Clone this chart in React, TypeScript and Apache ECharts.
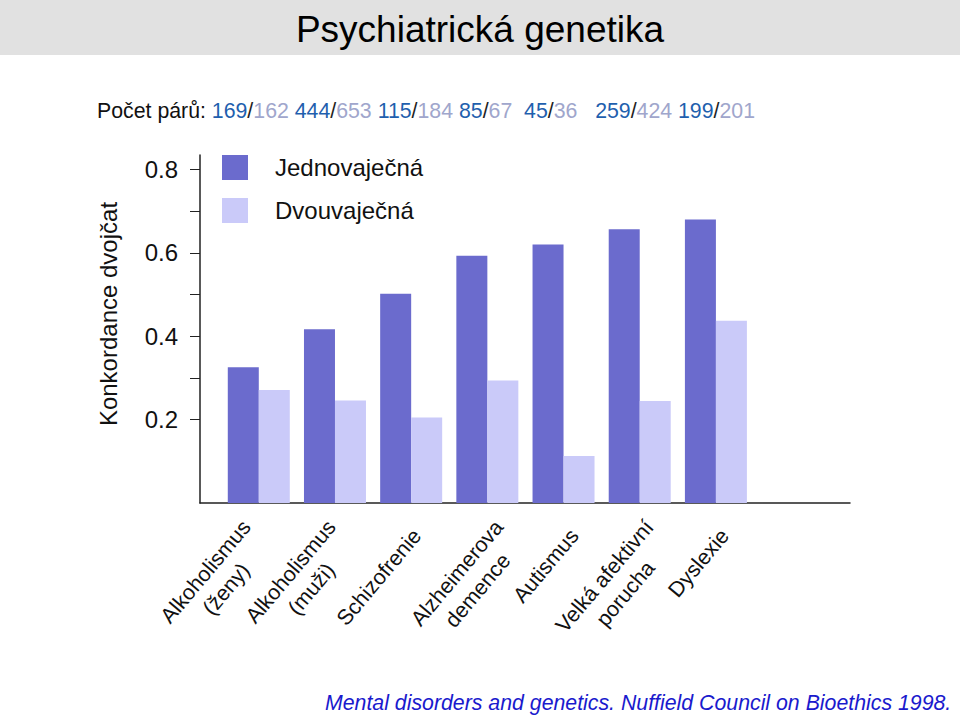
import React, { useEffect, useRef } from "react";
import * as echarts from "echarts";

const categories = [
  "Alkoholismus\n(ženy)",
  "Alkoholismus\n(muži)",
  "Schizofrenie",
  "Alzheimerova\ndemence",
  "Autismus",
  "Velká afektivní\nporucha",
  "Dyslexie",
];
const seriesNames = ["Jednovaječná", "Dvouvaječná"];
const identicalTwins = [0.326, 0.417, 0.502, 0.593, 0.62, 0.657, 0.68];
const fraternalTwins = [0.271, 0.246, 0.205, 0.294, 0.113, 0.245, 0.437];
const identicalPairs = [169, 444, 115, 85, 45, 259, 199];
const fraternalPairs = [162, 653, 184, 67, 36, 424, 201];
const pairSeparators = [" ", " ", " ", "  ", "   ", " "];
const yTickValues = [0.2, 0.3, 0.4, 0.5, 0.6, 0.7, 0.8];
const yLabelValues = [0.2, 0.4, 0.6, 0.8];

const FONT = "'Liberation Sans', Arial, Helvetica, sans-serif";
const Y_MAX = 0.835;
const BAR_GRID_LEFT = 220.7;
const BAR_GRID_WIDTH = 533.3;
const BAND = BAR_GRID_WIDTH / categories.length;
const labelShiftPx = [-2, 7, 6, 22, 11, 20, 9];

function pairText(): string {
  let s = "{k|Počet párů:} ";
  identicalPairs.forEach((a, i) => {
    s += `{a|${a}}{s|/}{b|${fraternalPairs[i]}}`;
    if (i < pairSeparators.length) s += pairSeparators[i];
  });
  return s;
}

export default function App() {
  const ref = useRef<HTMLDivElement>(null);
  useEffect(() => {
    if (!ref.current) return;
    const chart = echarts.init(ref.current, undefined, { renderer: "svg" });
    const option: any = {
      animation: false,
      backgroundColor: "#ffffff",
      textStyle: { fontFamily: FONT },
      legend: {
        data: seriesNames,
        orient: "vertical",
        left: 222,
        top: 155,
        padding: 0,
        itemWidth: 26,
        itemHeight: 25,
        itemGap: 18,
        icon: "rect",
        textStyle: { fontSize: 24, color: "#111", fontFamily: FONT, padding: [0, 0, 0, 22] },
      },
      grid: [
        { left: 200, top: 155, width: 650, height: 348 },
        { left: BAR_GRID_LEFT, top: 155, width: BAR_GRID_WIDTH, height: 348 },
      ],
      xAxis: [
        {
          gridIndex: 0,
          type: "value",
          min: 0,
          max: 1,
          axisLine: { show: true, lineStyle: { color: "#222", width: 1.5 } },
          axisTick: { show: false },
          axisLabel: { show: false },
          splitLine: { show: false },
        },
        {
          gridIndex: 1,
          type: "category",
          data: categories,
          show: false,
        },
        {
          gridIndex: 1,
          type: "value",
          min: 0,
          max: categories.length,
          position: "bottom",
          offset: 0,
          axisLine: { show: false },
          axisTick: { show: false },
          splitLine: { show: false },
          axisLabel: {
            customValues: categories.map((_, i) => i + 0.5 + labelShiftPx[i] / BAND),
            formatter: (v: number) =>
              categories[Math.max(0, Math.min(categories.length - 1, Math.floor(v)))]
                .split("\n")
                .map((l) => `{c|${l}}`)
                .join("\n"),
            rotate: 50,
            margin: 29,
            color: "#111",
            fontSize: 21.5,
            lineHeight: 27,
            fontFamily: FONT,
            rich: {
              c: { align: "center", fontSize: 21.5, lineHeight: 27, color: "#111", fontFamily: FONT },
            },
          },
        },
      ],
      yAxis: [
        {
          gridIndex: 0,
          type: "value",
          min: 0,
          max: Y_MAX,
          axisLine: { show: true, lineStyle: { color: "#222", width: 1.5 } },
          axisTick: { show: true, customValues: yTickValues, length: 10, lineStyle: { color: "#222", width: 1 } },
          axisLabel: {
            customValues: yLabelValues,
            formatter: (v: number) => v.toFixed(1),
            fontSize: 24,
            margin: 22,
            color: "#111",
            fontFamily: FONT,
          },
          splitLine: { show: false },
        },
        {
          gridIndex: 1,
          type: "value",
          min: 0,
          max: Y_MAX,
          show: false,
          splitLine: { show: false },
        },
      ],
      series: [
        {
          name: seriesNames[0],
          type: "bar",
          xAxisIndex: 1,
          yAxisIndex: 1,
          data: identicalTwins,
          barWidth: 31,
          barGap: "0%",
          itemStyle: { color: "#6b6bcd" },
        },
        {
          name: seriesNames[1],
          type: "bar",
          xAxisIndex: 1,
          yAxisIndex: 1,
          data: fraternalTwins,
          barWidth: 31,
          barGap: "0%",
          itemStyle: { color: "#cacaf9" },
        },
      ],
      graphic: [
        { type: "rect", z: -1, shape: { x: 0, y: 0, width: 960, height: 55 }, style: { fill: "#e1e1e1" } },
        {
          type: "text",
          x: 480,
          y: 29,
          style: {
            text: "Psychiatrická genetika",
            fontSize: 37,
            fontFamily: FONT,
            fill: "#000",
            align: "center",
            verticalAlign: "middle",
          },
        },
        {
          type: "text",
          x: 97,
          y: 111,
          style: {
            text: pairText(),
            fontSize: 21.3,
            fontFamily: FONT,
            fill: "#111",
            align: "left",
            verticalAlign: "middle",
            rich: {
              k: { fontSize: 21.3, fontFamily: FONT, fill: "#111" },
              a: { fontSize: 21.3, fontFamily: FONT, fill: "#1f5fae" },
              s: { fontSize: 21.3, fontFamily: FONT, fill: "#222" },
              b: { fontSize: 21.3, fontFamily: FONT, fill: "#a0a6cc" },
            },
          },
        },
        {
          type: "text",
          x: 108,
          y: 314,
          rotation: Math.PI / 2,
          style: {
            text: "Konkordance dvojčat",
            fontSize: 24,
            fontFamily: FONT,
            fill: "#111",
            align: "center",
            verticalAlign: "middle",
          },
        },
        {
          type: "text",
          x: 325,
          y: 703,
          style: {
            text: "Mental disorders and genetics. Nuffield Council on Bioethics 1998.",
            fontSize: 21.3,
            fontStyle: "italic",
            fontFamily: FONT,
            fill: "#1a1acd",
            align: "left",
            verticalAlign: "middle",
          },
        },
      ],
    };
    chart.setOption(option);
    return () => chart.dispose();
  }, []);
  return (
    <div
      ref={ref}
      style={{ position: "fixed", left: 0, top: 0, width: 960, height: 717, background: "#fff" }}
    />
  );
}
